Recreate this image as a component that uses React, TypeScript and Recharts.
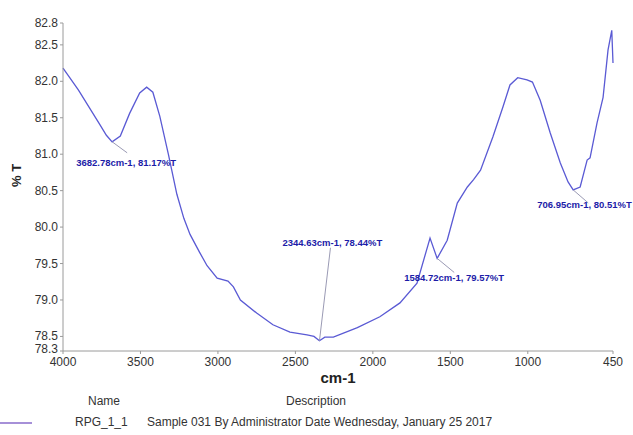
import { LineChart, Line, XAxis, YAxis, ReferenceDot, Label } from 'recharts';

// wavenumber (cm-1) and transmittance (%T)
const wavenumbers = [
  4000, 3960, 3900, 3830, 3760, 3720, 3683, 3630, 3570, 3505, 3460, 3420, 3375, 3320, 3265,
  3220, 3180, 3120, 3070, 3005, 2935, 2900, 2855, 2750, 2645, 2535, 2425, 2380, 2345, 2310,
  2255, 2100, 1955, 1825, 1715, 1631, 1585, 1520, 1455, 1390, 1350, 1305, 1225, 1160, 1115,
  1065, 1005, 970, 920, 855, 790, 740, 707, 662, 617, 598, 553, 514, 482, 458, 450,
];
const transmittance = [
  82.18, 82.06, 81.88, 81.64, 81.4, 81.26, 81.17, 81.25, 81.56, 81.84, 81.92, 81.85, 81.52, 81.0, 80.45,
  80.12, 79.9, 79.66, 79.47, 79.3, 79.26, 79.18, 79.0, 78.82, 78.66, 78.56, 78.52, 78.5, 78.44, 78.49,
  78.49, 78.62, 78.77, 78.96, 79.23, 79.85, 79.57, 79.82, 80.33, 80.55, 80.65, 80.78, 81.24, 81.65, 81.95,
  82.05, 82.02, 81.99, 81.74, 81.29, 80.88, 80.62, 80.51, 80.55, 80.92, 80.95, 81.43, 81.78, 82.43, 82.7,
  82.25,
];

const xTicks = [4000, 3500, 3000, 2500, 2000, 1500, 1000, 450];
const yTicks = [78.3, 78.5, 79.0, 79.5, 80.0, 80.5, 81.0, 81.5, 82.0, 82.5, 82.8];

// peak picks
const peakW = [3682.78, 2344.63, 1584.72, 706.95];
const peakT = [81.17, 78.44, 79.57, 80.51];

// label placement (pixels, relative to the picked point)
const leaderOffsets = [[15, 11], [11, -93], [17, 14], [15, 13]];
const textOffsets = [[-36, 24], [-37, -95], [-33, 23], [-36, 18]];

const data = wavenumbers.map((w, i) => ({ w, t: transmittance[i] }));

const FONT = "'Liberation Sans', Arial, sans-serif";

const PeakMark = (index: number) => (props: any) => {
  const { cx, cy } = props;
  const [lx, ly] = leaderOffsets[index];
  const [tx, ty] = textOffsets[index];
  return (
    <g>
      <line x1={cx} y1={cy} x2={cx + lx} y2={cy + ly} stroke="#9a9ab4" strokeWidth={1} />
      <text x={cx + tx} y={cy + ty} fill="#1c1ca8" fontSize={9.5} fontWeight="bold" fontFamily={FONT}>
        {`${peakW[index].toFixed(2)}cm-1, ${peakT[index].toFixed(2)}%T`}
      </text>
    </g>
  );
};

// y tick: the bottom label sits a touch higher so it clears "4000"
const YTick = (props: any) => {
  const { x, y, payload } = props;
  const lift = payload.value === 78.3 ? -2 : 0;
  return (
    <text x={x} y={y + lift} dy={4} textAnchor="end" fill="#333" fontSize={12} fontFamily={FONT}>
      {payload.value.toFixed(1)}
    </text>
  );
};

export default function App() {
  return (
    <div style={{ position: 'absolute', left: 0, top: 0, width: 633, height: 435, background: '#fff', fontFamily: FONT }}>
      <LineChart width={633} height={435} data={data} margin={{ top: 23, right: 20, bottom: 54, left: 8 }}>
        <XAxis
          dataKey="w"
          type="number"
          domain={[450, 4000]}
          reversed
          ticks={xTicks}
          interval={0}
          height={30}
          tickSize={3}
          stroke="#9a9a9a"
          tick={{ fill: '#333', fontSize: 12, fontFamily: FONT, dy: 1 }}
        >
          <Label value="cm-1" position="insideBottom" offset={-2} fill="#222" fontSize={15} fontWeight="bold" fontFamily={FONT} />
        </XAxis>
        <YAxis
          type="number"
          domain={[78.3, 82.8]}
          ticks={yTicks}
          interval={0}
          width={55}
          tickSize={3}
          stroke="#9a9a9a"
          tick={<YTick />}
        >
          <Label value="% T" angle={-90} position="insideLeft" offset={8} fill="#222" fontSize={13} fontWeight="bold" fontFamily={FONT} />
        </YAxis>
        <Line type="linear" dataKey="t" stroke="#5a5ad4" strokeWidth={1.3} dot={false} isAnimationActive={false} />
        {peakW.map((w, i) => (
          <ReferenceDot key={i} x={w} y={peakT[i]} r={0} shape={PeakMark(i)} />
        ))}
      </LineChart>
      <div style={{ position: 'absolute', left: 88, top: 394, fontSize: 12, color: '#333' }}>Name</div>
      <div style={{ position: 'absolute', left: 286, top: 394, fontSize: 12, color: '#333' }}>Description</div>
      <div style={{ position: 'absolute', left: 0, top: 422, width: 32, height: 2, background: '#a690d8' }} />
      <div style={{ position: 'absolute', left: 75, top: 415, fontSize: 12, color: '#333', whiteSpace: 'nowrap' }}>RPG_1_1</div>
      <div style={{ position: 'absolute', left: 147, top: 415, fontSize: 12, color: '#333', whiteSpace: 'nowrap' }}>
        Sample 031 By Administrator Date Wednesday, January 25 2017
      </div>
    </div>
  );
}
